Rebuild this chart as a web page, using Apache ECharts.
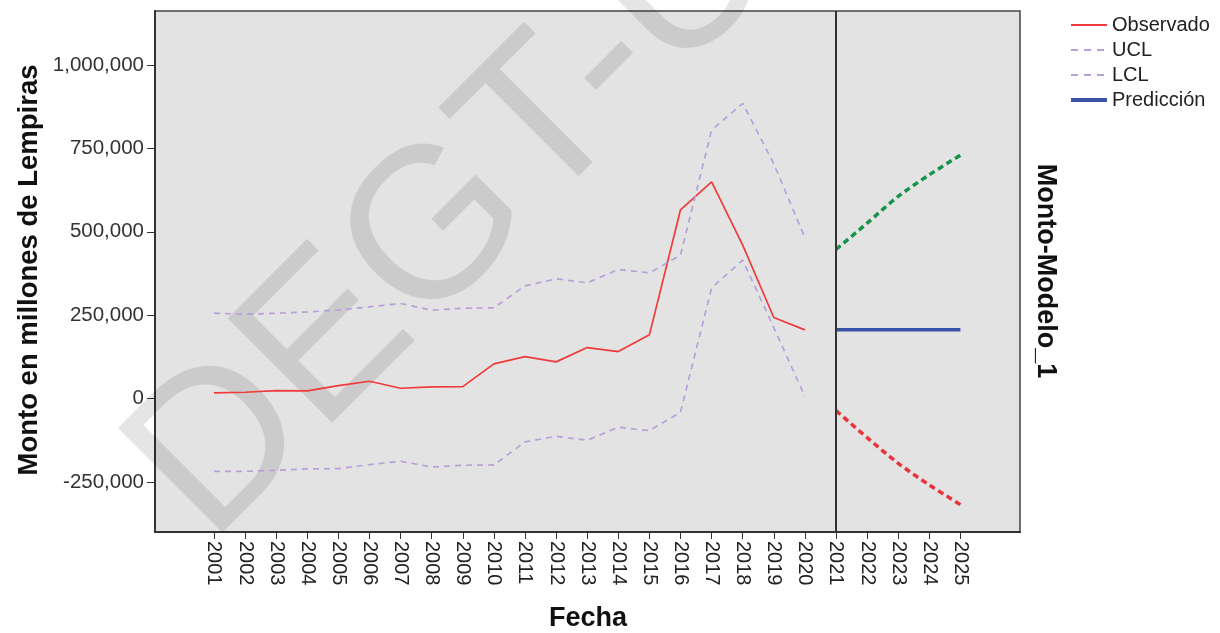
<!DOCTYPE html>
<html><head><meta charset="utf-8">
<script src="https://cdn.jsdelivr.net/npm/echarts@6/dist/echarts.min.js"></script>
<style>html,body{margin:0;padding:0;background:#fff}#c{width:1220px;height:633px}</style>
</head><body><div id="c"></div>
<script>
const histYears = [2001,2002,2003,2004,2005,2006,2007,2008,2009,2010,2011,2012,2013,2014,2015,2016,2017,2018,2019,2020];
const observado = [17000,19000,24000,23000,39000,52000,31000,35000,36000,104000,126000,110000,153000,141000,191000,566000,650000,460000,243000,206000];
const ucl = [256000,253000,256000,260000,265000,275000,285000,265000,271000,272000,338000,359000,347000,387000,377000,430000,805000,885000,704000,482000];
const lcl = [-218000,-218000,-215000,-211000,-210000,-198000,-188000,-205000,-200000,-199000,-130000,-113000,-125000,-86000,-96000,-41000,332000,415000,213000,6000];
const fcYears = [2021,2022,2023,2024,2025];
const prediccion = [206000,206000,206000,206000,206000];
const fcUcl = [447000,526000,606000,671000,730000];
const fcLcl = [-36000,-117000,-194000,-259000,-318000];
const xTicks = [2001,2002,2003,2004,2005,2006,2007,2008,2009,2010,2011,2012,2013,2014,2015,2016,2017,2018,2019,2020,2021,2022,2023,2024,2025];
const yTicks = [-250000,0,250000,500000,750000,1000000];
const forecastStart = 2021;

const pairs = (xs, ys) => xs.map((x, i) => [x, ys[i]]);
const FONT = "'Liberation Sans', Arial, sans-serif";

const chart = echarts.init(document.getElementById('c'));
chart.setOption({
  animation: false,
  backgroundColor: '#ffffff',
  grid: {
    left: 155, right: 200, top: 11, bottom: 101,
    show: true, backgroundColor: '#e3e3e3', borderColor: '#444', borderWidth: 1.5,
    containLabel: false
  },
  xAxis: {
    type: 'value', min: 1999.103, max: 2026.916,
    axisLine: { show: true, onZero: false, lineStyle: { color: '#333', width: 2 } },
    axisTick: { show: true, customValues: xTicks, length: 7, lineStyle: { color: '#333', width: 1 } },
    axisLabel: { show: true, customValues: xTicks, rotate: -90, margin: 9, fontSize: 20, color: '#222', fontFamily: FONT,
      formatter: v => String(v) },
    splitLine: { show: false }
  },
  yAxis: {
    type: 'value', min: -400000, max: 1162000,
    axisLine: { show: true, onZero: false, lineStyle: { color: '#333', width: 2 } },
    axisTick: { show: true, customValues: yTicks, length: 8, lineStyle: { color: '#333', width: 1 } },
    axisLabel: { show: true, customValues: yTicks, margin: 11, fontSize: 20.5, color: '#333', fontFamily: FONT,
      formatter: v => Number(v).toLocaleString('en-US') },
    splitLine: { show: false }
  },
  legend: {
    orient: 'vertical', left: 1069, top: 15, padding: 0,
    itemWidth: 36, itemHeight: 14, itemGap: 5,
    itemStyle: { opacity: 0 },
    textStyle: { fontSize: 20, color: '#222', fontFamily: FONT },
    data: [
      { name: 'Observado', lineStyle: { width: 2 } },
      { name: 'UCL', lineStyle: { width: 2, type: [7, 6] } },
      { name: 'LCL', lineStyle: { width: 2, type: [7, 6] } },
      { name: 'Predicción', lineStyle: { width: 4 } }
    ]
  },
  graphic: [
    { type: 'text', x: 168, y: 503, rotation: Math.PI / 4, z: 1, silent: true,
      style: { text: 'DEGT-U', fontSize: 215, fontFamily: FONT, fill: 'rgba(0,0,0,0.1)', textAlign: 'left', textVerticalAlign: 'middle' } },
    { type: 'text', x: 29, y: 270, rotation: Math.PI / 2, z: 5,
      style: { text: 'Monto en millones de Lempiras', fontSize: 27.5, fontWeight: 'bold', fontFamily: FONT, fill: '#111', textAlign: 'center', textVerticalAlign: 'middle' } },
    { type: 'text', x: 588, y: 619, z: 5,
      style: { text: 'Fecha', fontSize: 27, fontWeight: 'bold', fontFamily: FONT, fill: '#111', textAlign: 'center', textVerticalAlign: 'middle' } },
    { type: 'text', x: 1045, y: 271, rotation: -Math.PI / 2, z: 5,
      style: { text: 'Monto-Modelo_1', fontSize: 27, fontWeight: 'bold', fontFamily: FONT, fill: '#111', textAlign: 'center', textVerticalAlign: 'middle' } }
  ],
  series: [
    { name: 'Observado', type: 'line', symbol: 'none', data: pairs(histYears, observado),
      lineStyle: { color: '#ef3b3b', width: 1.7 }, itemStyle: { color: '#ef3b3b' },
      markLine: { silent: true, symbol: 'none', label: { show: false },
        lineStyle: { color: '#333', width: 2, type: 'solid' }, data: [{ xAxis: forecastStart }] } },
    { name: 'UCL', type: 'line', symbol: 'none', data: pairs(histYears, ucl),
      lineStyle: { color: '#b9a0d9', width: 1.7, type: [6, 5] }, itemStyle: { color: '#b9a0d9' } },
    { name: 'LCL', type: 'line', symbol: 'none', data: pairs(histYears, lcl),
      lineStyle: { color: '#b9a0d9', width: 1.7, type: [6, 5] }, itemStyle: { color: '#b9a0d9' } },
    { name: 'Predicción', type: 'line', symbol: 'none', data: pairs(fcYears, prediccion),
      lineStyle: { color: '#3a52a8', width: 3.5 }, itemStyle: { color: '#3a52a8' } },
    { name: 'UCL pronóstico', type: 'line', symbol: 'none', smooth: 0.3, data: pairs(fcYears, fcUcl),
      lineStyle: { color: '#17944a', width: 3.5, type: [6, 4] }, itemStyle: { color: '#17944a' } },
    { name: 'LCL pronóstico', type: 'line', symbol: 'none', smooth: 0.3, data: pairs(fcYears, fcLcl),
      lineStyle: { color: '#e8333a', width: 3.5, type: [6, 4] }, itemStyle: { color: '#e8333a' } }
  ]
});
</script></body></html>
